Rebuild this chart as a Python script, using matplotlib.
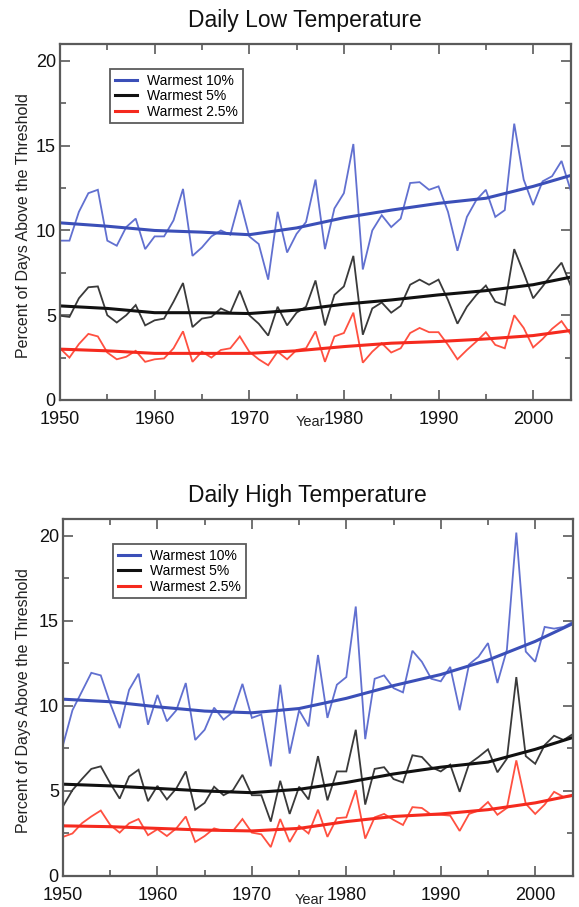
import matplotlib

matplotlib.use("Agg")
import matplotlib.pyplot as plt
from matplotlib.ticker import MultipleLocator

plt.rcParams["font.family"] = ["Liberation Sans", "DejaVu Sans"]

YEARS = list(range(1950, 2005))

LOW_10 = [9.4, 9.4, 11.1, 12.2, 12.4, 9.4, 9.1, 10.2, 10.7, 8.9,
          9.65, 9.65, 10.6, 12.45, 8.5, 9.0, 9.65, 10.0, 9.75, 11.8,
          9.65, 9.2, 7.1, 11.1, 8.7, 9.8, 10.5, 13.0, 8.9, 11.3,
          12.2, 15.1, 7.7, 10.0, 10.9, 10.2, 10.7, 12.8, 12.85, 12.4,
          12.6, 11.1, 8.8, 10.8, 11.8, 12.4, 10.8, 11.2, 16.3, 13.0,
          11.5, 12.9, 13.2, 14.1, 12.3]
LOW_5 = [4.97, 4.9, 6.0, 6.65, 6.7, 5.0, 4.57, 5.0, 5.6, 4.4,
         4.7, 4.8, 5.8, 6.9, 4.3, 4.8, 4.9, 5.4, 5.15, 6.45,
         5.0, 4.5, 3.8, 5.5, 4.4, 5.15, 5.5, 7.05, 4.4, 6.2,
         6.7, 8.5, 3.85, 5.4, 5.75, 5.15, 5.55, 6.8, 7.1, 6.8,
         7.1, 5.9, 4.5, 5.5, 6.2, 6.75, 5.8, 5.6, 8.9, 7.5,
         6.0, 6.7, 7.45, 8.1, 6.7]
LOW_25 = [3.05, 2.5, 3.3, 3.9, 3.75, 2.8, 2.4, 2.55, 2.9, 2.25,
          2.4, 2.45, 3.05, 4.05, 2.25, 2.85, 2.5, 2.95, 3.05, 3.75,
          2.85, 2.4, 2.05, 2.85, 2.4, 2.95, 3.05, 4.05, 2.25, 3.75,
          3.95, 5.15, 2.2, 2.85, 3.35, 2.8, 3.05, 3.95, 4.25, 4.0,
          4.0, 3.25, 2.4, 2.95, 3.45, 4.0, 3.25, 3.05, 5.0, 4.25,
          3.1, 3.6, 4.2, 4.65, 3.85]

HIGH_10 = [7.7, 9.75, 10.85, 11.95, 11.8, 10.15, 8.7, 10.95, 11.9, 8.9,
           10.65, 9.1, 9.75, 11.35, 8.0, 8.6, 9.9, 9.2, 9.65, 11.3,
           9.3, 9.5, 6.45, 11.25, 7.2, 9.75, 8.8, 13.0, 9.3, 11.25,
           11.7, 15.85, 8.05, 11.6, 11.8, 11.05, 10.8, 13.25, 12.6, 11.6,
           11.45, 12.3, 9.75, 12.45, 12.9, 13.7, 11.35, 13.3, 20.2, 13.2,
           12.6, 14.65, 14.55, 14.65, 14.95]
HIGH_5 = [4.1, 5.05, 5.7, 6.3, 6.45, 5.45, 4.55, 5.85, 6.25, 4.4,
          5.3, 4.5, 5.15, 6.15, 3.9, 4.3, 5.25, 4.75, 5.05, 5.95,
          4.75, 4.75, 3.2, 5.6, 3.65, 5.25, 4.5, 7.05, 4.45, 6.15,
          6.15, 8.6, 4.2, 6.3, 6.4, 5.7, 5.5, 7.1, 7.0, 6.4,
          6.15, 6.55, 4.95, 6.6, 7.0, 7.45, 6.1, 6.9, 11.7, 7.05,
          6.6, 7.7, 8.25, 8.0, 8.35]
HIGH_25 = [2.3, 2.5, 3.1, 3.5, 3.85, 3.0, 2.55, 3.1, 3.35, 2.4,
           2.75, 2.35, 2.8, 3.5, 2.0, 2.35, 2.8, 2.65, 2.65, 3.35,
           2.55, 2.45, 1.7, 3.35, 2.0, 2.95, 2.5, 3.9, 2.3, 3.4,
           3.45, 5.05, 2.2, 3.45, 3.65, 3.3, 3.0, 4.05, 4.0, 3.6,
           3.6, 3.55, 2.65, 3.65, 3.85, 4.35, 3.6, 4.0, 6.8, 4.25,
           3.65, 4.2, 4.95, 4.65, 4.7]

# smoothed trend curves
TREND_YEARS = [1950, 1955, 1960, 1965, 1970, 1975, 1980, 1985, 1990, 1995, 2000, 2004]
LOW_10_TREND = [10.45, 10.25, 10.0, 9.9, 9.75, 10.15, 10.75, 11.2, 11.6, 11.9, 12.6, 13.25]
LOW_5_TREND = [5.55, 5.4, 5.15, 5.15, 5.1, 5.3, 5.65, 5.9, 6.2, 6.45, 6.8, 7.25]
LOW_25_TREND = [3.0, 2.9, 2.75, 2.75, 2.75, 2.9, 3.15, 3.35, 3.45, 3.6, 3.8, 4.1]
HIGH_10_TREND = [10.4, 10.25, 9.95, 9.7, 9.6, 9.85, 10.45, 11.2, 11.85, 12.7, 13.8, 14.85]
HIGH_5_TREND = [5.4, 5.3, 5.15, 5.0, 4.9, 5.1, 5.5, 6.0, 6.4, 6.7, 7.45, 8.15]
HIGH_25_TREND = [2.95, 2.9, 2.8, 2.7, 2.65, 2.8, 3.2, 3.5, 3.65, 3.9, 4.3, 4.75]

LABELS = ["Warmest 10%", "Warmest 5%", "Warmest 2.5%"]
THIN = ["#6170d0", "#3a3a3a", "#ff5040"]
THICK = ["#3b4fb8", "#111111", "#f52a1e"]
SPINE = "#5a5a5a"


def draw_panel(ax, title, series, trends, ylabel_x, year_xy):
    for vals, trend, thin, thick, label in zip(series, trends, THIN, THICK, LABELS):
        ax.plot(YEARS, vals, color=thin, linewidth=1.3, solid_joinstyle="miter")
        ax.plot(TREND_YEARS, trend, color=thick, linewidth=2.2, label=label)
    ax.set_xlim(1950, 2004)
    ax.set_ylim(0, 21)
    ax.xaxis.set_major_locator(MultipleLocator(10))
    ax.xaxis.set_minor_locator(MultipleLocator(5))
    ax.yaxis.set_major_locator(MultipleLocator(5))
    ax.yaxis.set_minor_locator(MultipleLocator(2.5))
    ax.tick_params(which="both", direction="in", top=True, right=True,
                   colors=SPINE, labelcolor="#111111", labelsize=13, width=1.2)
    ax.tick_params(which="major", length=7)
    ax.tick_params(which="minor", length=4)
    ax.tick_params(axis="x", pad=8)
    ax.tick_params(axis="y", pad=3)
    for spine in ax.spines.values():
        spine.set_color(SPINE)
        spine.set_linewidth(1.6)
    ax.set_ylabel("Percent of Days Above the Threshold", fontsize=11.5, color="#222222")
    ax.yaxis.set_label_coords(ylabel_x, 0.49)
    ax.set_xlabel("Year", fontsize=10.5, color="#222222", va="center")
    ax.xaxis.set_label_coords(*year_xy)
    ax.set_title(title, fontsize=16.5, color="#111111", pad=12, x=0.48)
    leg = ax.legend(loc="upper left", bbox_to_anchor=(0.098, 0.93), borderaxespad=0,
                    fontsize=10, frameon=True, fancybox=False, labelspacing=0.1,
                    handlelength=1.6, handletextpad=0.7, borderpad=0.35)
    leg.get_frame().set_edgecolor("#333333")
    leg.get_frame().set_linewidth(1.3)


fig = plt.figure(figsize=(5.79, 9.07), dpi=100, facecolor="white")
ax_low = fig.add_axes([0.1036, 0.559, 0.8826, 0.3925])
ax_high = fig.add_axes([0.1088, 0.0342, 0.8808, 0.3936])

draw_panel(ax_low, "Daily Low Temperature", [LOW_10, LOW_5, LOW_25],
           [LOW_10_TREND, LOW_5_TREND, LOW_25_TREND], -0.056, (0.49, -0.063))
draw_panel(ax_high, "Daily High Temperature", [HIGH_10, HIGH_5, HIGH_25],
           [HIGH_10_TREND, HIGH_5_TREND, HIGH_25_TREND], -0.062, (0.484, -0.066))

fig.savefig("out.png", dpi=100, facecolor="white")
